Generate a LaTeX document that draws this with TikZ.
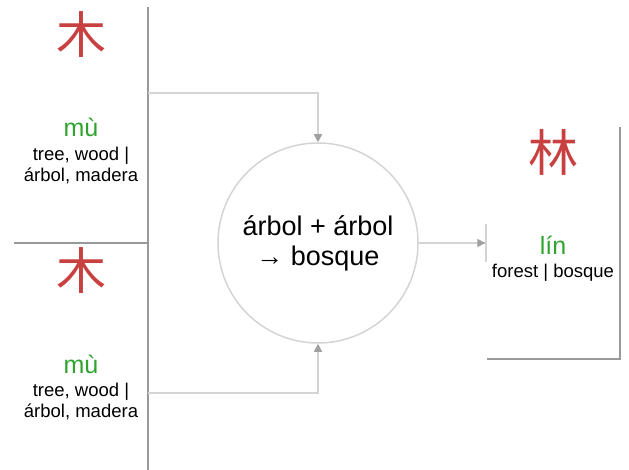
\documentclass[tikz,border=0pt]{standalone}
\usepackage{fontspec}
\setmainfont{Liberation Sans}
\newfontfamily\cjk{Noto Sans CJK SC}
\usetikzlibrary{arrows.meta}
\definecolor{hanred}{HTML}{C8403F}
\definecolor{pygreen}{HTML}{2EA32E}
\definecolor{edgegray}{HTML}{999999}
\definecolor{linkgray}{HTML}{D4D4D4}
\definecolor{tipgray}{HTML}{A0A0A0}

\begin{document}
\begin{tikzpicture}[x=1pt,y=-1pt,
  box/.style={inner sep=0pt, minimum width=134pt},
  edge/.style={edgegray, line width=2pt},
  link/.style={linkgray, line width=1.5pt, -{Triangle[length=8pt,width=8pt,color=tipgray]}},
  han/.style={anchor=center, text=hanred, font=\cjk\fontsize{50}{50}\selectfont},
  pinyin/.style={anchor=base, text=pygreen, font=\fontsize{25}{25}\selectfont},
  gloss/.style={anchor=base, font=\fontsize{18.5}{18.5}\selectfont}]
\useasboundingbox (0,0) rectangle (629,470);
% boxes
\node [box, minimum height=236pt] (muA) at (81,125) {};
\node [box, minimum height=227pt] (muB) at (81,356.5) {};
\node [box, minimum width=133pt, minimum height=232pt] (lin) at (553.5,243) {};
\draw [edge] (muA.north east) -- (muA.south east);
\draw [edge] (muB.north west) -- (muB.north east) -- (muB.south east);
\draw [edge] (lin.north east) -- (lin.south east) -- (lin.south west);
% first tree
\node [han] (hanA) at (81,35) {木};
\node [pinyin] (pyA) at (81,137) {mù};
\node [gloss] (enA) at (81,161) {tree, wood |};
\node [gloss] (esA) at (81,182) {árbol, madera};
% second tree
\node [han] (hanB) at (81,271) {木};
\node [pinyin] (pyB) at (81,373) {mù};
\node [gloss] (enB) at (81,396) {tree, wood |};
\node [gloss] (esB) at (81,417) {árbol, madera};
% forest
\node [han] (hanC) at (553,152) {林};
\node [pinyin] (pyC) at (553,255) {lín};
\node [gloss] (enC) at (553,278) {forest | bosque};
% combination
\node [circle, draw=linkgray, line width=1.5pt, minimum size=200pt, inner sep=0pt,
  align=center, font=\fontsize{27}{30}\selectfont] (comb) at (318,243) {árbol + árbol\\→ bosque};
\draw [link] (muA.east) ++(0,-32) -| (comb.north);
\draw [link] (muB.east) ++(0,36.5) -| (comb.south);
\draw [link, -{Triangle[length=8pt,width=8pt,color=tipgray] Bar[width=38pt,line width=1.5pt,color=linkgray]}] (comb.east) -- (lin.west);
\end{tikzpicture}
\end{document}
